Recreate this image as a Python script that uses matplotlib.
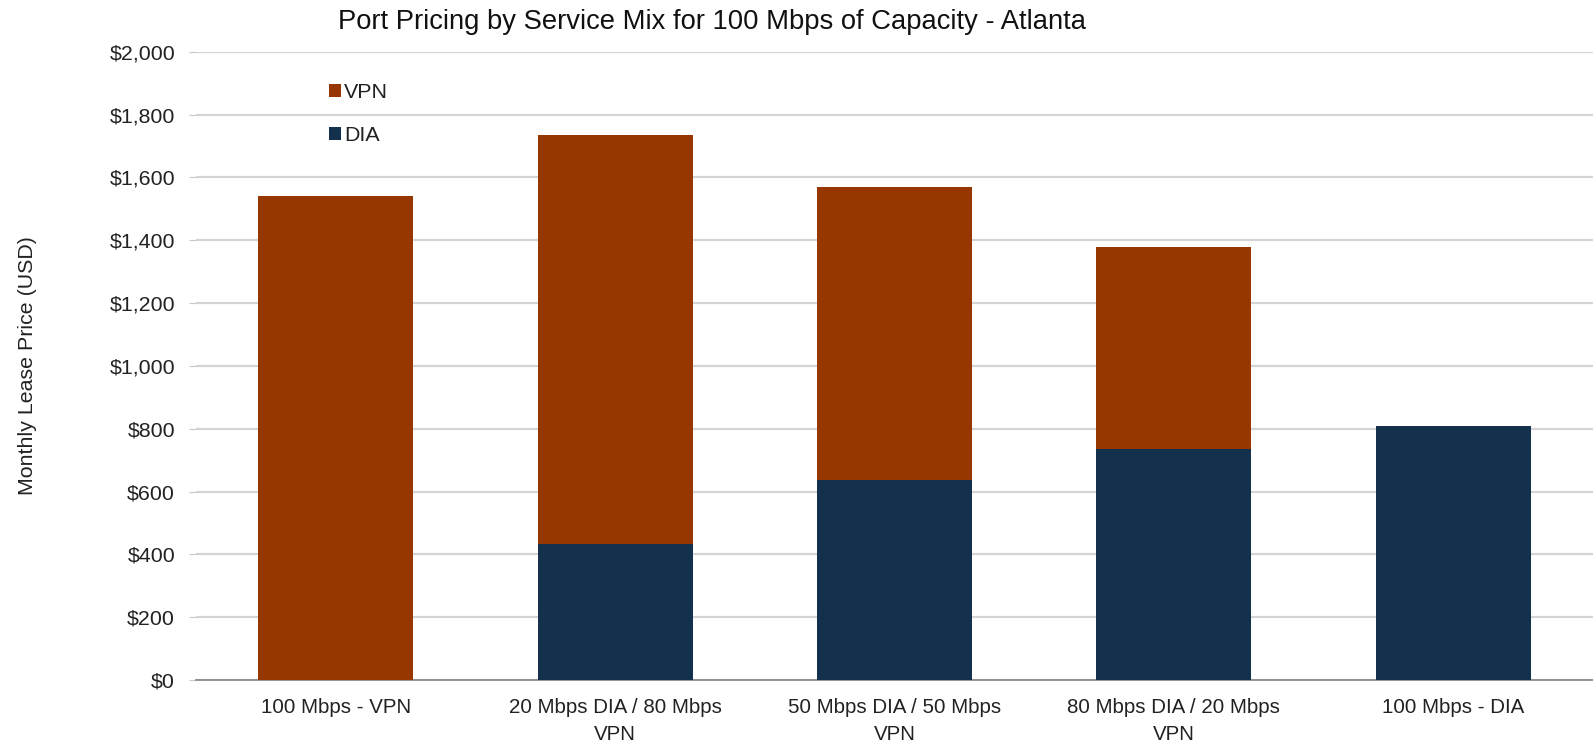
import matplotlib
matplotlib.use("Agg")
import numpy as np
import matplotlib.pyplot as plt
from matplotlib.ticker import FuncFormatter

plt.rcParams['font.family'] = ['Liberation Sans', 'DejaVu Sans']

# data (USD per month)
categories = ["100 Mbps - VPN", "20 Mbps DIA / 80 Mbps\nVPN", "50 Mbps DIA / 50 Mbps\nVPN",
              "80 Mbps DIA / 20 Mbps\nVPN", "100 Mbps - DIA"]
dia = [0, 433, 637, 735, 808]
vpn = [1541, 1302, 934, 645, 0]

vpn_color = '#973700'
dia_color = '#13304d'
text_color = '#222222'


def money(v, pos):
    return "${:,.0f}".format(v)


def main():
    fig = plt.figure(figsize=(15.93, 7.42), dpi=100)
    ax = fig.add_axes([0.123, 0.0836, 0.877, 0.8466])

    x = np.arange(len(categories))
    w = 0.555
    b_dia = ax.bar(x, dia, w, color=dia_color, label="DIA", zorder=3)
    b_vpn = ax.bar(x, vpn, w, bottom=dia, color=vpn_color, label="VPN", zorder=3)

    ax.set_xlim(-0.5, len(categories) - 0.5)
    ax.set_ylim(0, 2000)
    ax.set_yticks(np.arange(0, 2001, 200))
    ax.yaxis.set_major_formatter(FuncFormatter(money))
    ax.yaxis.grid(True, color='#d4d4d4', linewidth=1.6, zorder=0)
    ax.set_axisbelow(True)

    ax.set_xticks(x)
    ax.set_xticklabels(categories, fontsize=14.8, color=text_color, linespacing=1.5)
    ax.tick_params(axis='x', length=0, pad=13)
    ax.tick_params(axis='y', length=5, color='#c8c8c8', labelsize=15.4, labelcolor=text_color, pad=10)

    for s in ['top', 'right', 'left']:
        ax.spines[s].set_visible(False)
    ax.spines['bottom'].set_color('#8a8a8a')
    ax.spines['bottom'].set_linewidth(1.3)

    ax.set_ylabel("Monthly Lease Price (USD)", fontsize=15.4, color=text_color, labelpad=52)

    fig.text(0.447, 0.970, "Port Pricing by Service Mix for 100 Mbps of Capacity - Atlanta",
             ha='center', va='center', fontsize=19.7, color='#111111')

    ax.legend([b_vpn, b_dia], ["VPN", "DIA"], loc='upper left', bbox_to_anchor=(0.2, 0.902),
              bbox_transform=fig.transFigure, frameon=False, fontsize=15.4,
              handlelength=0.55, handleheight=0.55, handletextpad=0.15, labelspacing=1.1,
              borderpad=0, labelcolor=text_color)

    plt.savefig('out.png', dpi=100)
    plt.close('all')


if __name__ == "__main__":
    main()
